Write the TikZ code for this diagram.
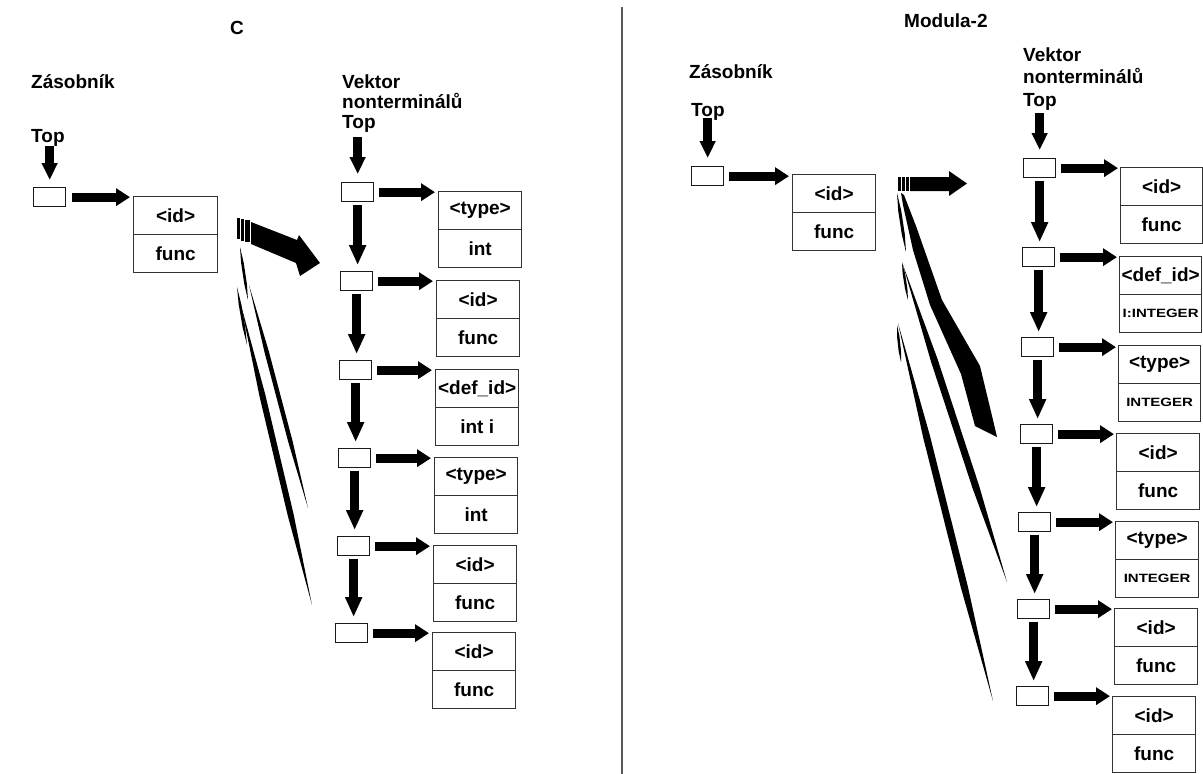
\documentclass[tikz,border=0pt]{standalone}
\usepackage{fontspec}
\setmainfont{Liberation Sans}
\usetikzlibrary{arrows.meta,calc}
\tikzset{
  lbl/.style={font=\bfseries\fontsize{19}{22}\selectfont, inner sep=0pt, anchor=base west},
  cell/.style={draw=black!90, line width=1.3pt, fill=white, minimum width=32pt, minimum height=19pt, inner sep=0pt, anchor=north west},
  half/.style={draw=black!80, line width=1.3pt, fill=white, minimum height=38pt, inner sep=0pt, anchor=north west, font=\bfseries\fontsize{19}{22}\selectfont},
  harr/.style={black, line width=9pt, -{Triangle[length=14pt,width=17pt]}},
  varr/.style={black, line width=8.5pt, -{Triangle[length=20pt,width=16pt]}},
  toparr/.style={black, line width=8.5pt, -{Triangle[length=17pt,width=15pt]}},
  sep/.style={draw=black!65, line width=2pt},
}
% a record drawn as two stacked fields: name, x, y, width, upper text, lower text
\newcommand\twopart[6]{%
  \node[half, minimum width=#4pt] (#1a) at (#2,#3) {#5};
  \node[half, minimum width=#4pt] (#1b) at (#2,#3+38) {#6};}
% a tapered black streak from #1 to #2 with half-width #3
\newcommand\swoosh[3]{%
  \fill[black] #1 -- ($#1!0.3!#2!#3pt!90:#2$) -- ($#1!0.7!#2!#3pt!90:#2$) -- #2
    -- ($#1!0.7!#2!#3pt!-90:#2$) -- ($#1!0.3!#2!#3pt!-90:#2$) -- cycle;}
% small, widened capitals for type names
\newcommand\intg[1]{{\fontsize{12}{14}\selectfont\scalebox{1.25}[1]{#1}}}
\begin{document}
\begin{tikzpicture}[x=1pt,y=-1pt]
\fill[white] (0,0) rectangle (1203,774);
\useasboundingbox (0,0) rectangle (1203,774);
\draw[sep] (622,7) -- (622,774);

% ---------------- C ----------------
\node[lbl] (titleC) at (230,34) {C};
\node[lbl] (lzas) at (31,88) {Zásobník};
\node[lbl] (ltop) at (31,142) {Top};
\node[cell] (ls) at (33,187) {};
\twopart{lsb}{133}{196}{84}{<id>}{func}
\draw[toparr] (ltop.south -| ls.north) -- ([yshift=7pt]ls.north);
\draw[harr] ([xshift=6pt]ls.east) -- ([xshift=-3pt]ls.east -| lsba.west);

\node[lbl] (lv1) at (342,88) {Vektor};
\node[lbl] (lv2) at (342,108) {nonterminálů};
\node[lbl] (lv3) at (342,128) {Top};

\node[cell] (lc1) at (341,182) {};
\node[cell] (lc2) at (340,271) {};
\node[cell] (lc3) at (339,360) {};
\node[cell] (lc4) at (338,448) {};
\node[cell] (lc5) at (337,536) {};
\node[cell] (lc6) at (335,623) {};

\twopart{lb1}{438}{191}{83}{<type>}{int}
\twopart{lb2}{436}{280}{83}{<id>}{func}
\twopart{lb3}{435}{369}{83}{<def\_id>}{int i}
\twopart{lb4}{434}{457}{83}{<type>}{int}
\twopart{lb5}{433}{545}{83}{<id>}{func}
\twopart{lb6}{432}{632}{83}{<id>}{func}

\draw[toparr] ([yshift=-5pt]lv3.south -| lc1.north) -- ([yshift=8pt]lc1.north);
\foreach \a/\b in {lc1/lc2,lc2/lc3,lc3/lc4,lc4/lc5,lc5/lc6}
  \draw[varr] ([yshift=-3pt]\a.south) -- ([yshift=6pt]\a.south |- \b.north);
\foreach \a/\b in {lc1/lb1a,lc2/lb2a,lc3/lb3a,lc4/lb4a,lc5/lb5a,lc6/lb6a}
  \draw[harr] ([xshift=5pt]\a.east) -- ([xshift=-3pt]\a.east -| \b.west);

% blurred arrow and streaks
\fill (237,218) rectangle (239.5,239);
\fill (241,219) rectangle (243.5,241);
\fill (245,220) rectangle (249.5,242);
\fill (251,222) -- (297,240) -- (299,235) -- (320,263) -- (300,276) -- (296,263) -- (251,244) -- cycle;
\swoosh{(240,247)}{(248,300)}{1.3}
\swoosh{(249,285)}{(308,508)}{2.2}
\swoosh{(237,287)}{(247,345)}{1.3}
\swoosh{(241,305)}{(312,605)}{3}

% ---------------- Modula-2 ----------------
\node[lbl] (titleM) at (904,27) {Modula-2};
\node[lbl] (rzas) at (689,78) {Zásobník};
\node[lbl] (rtop) at (691,116) {Top};
\node[cell] (rs) at (691,166) {};
\twopart{rsb}{792}{174}{83}{<id>}{func}
\draw[toparr] ([yshift=2pt]rtop.south -| rs.north) -- ([yshift=8pt]rs.north);
\draw[harr] ([xshift=5pt]rs.east) -- ([xshift=-3pt]rs.east -| rsba.west);

\node[lbl] (rv1) at (1023,61) {Vektor};
\node[lbl] (rv2) at (1023,83) {nonterminálů};
\node[lbl] (rv3) at (1023,106) {Top};

\node[cell] (rc1) at (1023,158) {};
\node[cell] (rc2) at (1022,247) {};
\node[cell] (rc3) at (1021,337) {};
\node[cell] (rc4) at (1020,424) {};
\node[cell] (rc5) at (1018,512) {};
\node[cell] (rc6) at (1017,599) {};
\node[cell] (rc7) at (1016,686) {};

\twopart{rb1}{1120}{167}{82}{<id>}{func}
\twopart{rb2}{1119}{256}{82}{<def\_id>}{\intg{I:INTEGER}}
\twopart{rb3}{1118}{345}{82}{<type>}{\intg{INTEGER}}
\twopart{rb4}{1116}{433}{83}{<id>}{func}
\twopart{rb5}{1115}{521}{83}{<type>}{\intg{INTEGER}}
\twopart{rb6}{1114}{608}{83}{<id>}{func}
\twopart{rb7}{1112}{696}{83}{<id>}{func}

\draw[toparr] ([yshift=-3pt]rv3.south -| rc1.north) -- ([yshift=8pt]rc1.north);
\foreach \a/\b in {rc1/rc2,rc2/rc3,rc3/rc4,rc4/rc5,rc5/rc6,rc6/rc7}
  \draw[varr] ([yshift=-3pt]\a.south) -- ([yshift=5pt]\a.south |- \b.north);
\foreach \a/\b in {rc1/rb1a,rc2/rb2a,rc3/rb3a,rc4/rb4a,rc5/rb5a,rc6/rb6a,rc7/rb7a}
  \draw[harr] ([xshift=5pt]\a.east) -- ([xshift=-2pt]\a.east -| \b.west);

% blurred arrow and streaks
\fill (898,177) rectangle (900.5,191);
\fill (902,177) rectangle (904.5,191);
\fill (906,177) rectangle (908.5,191);
\fill (910,177) -- (949,177) -- (949,171) -- (967,183.5) -- (949,196) -- (949,191) -- (910,191) -- cycle;
\swoosh{(897,193)}{(906,252)}{1.5}
\fill (901,193) -- (904,195) -- (916,226) -- (942,300) -- (980,366) -- (993,420) -- (997,437)
  -- (975,426) -- (961,374) -- (930,305) -- (913,250) -- (903,205) -- cycle;
\swoosh{(902,262)}{(908,300)}{1.2}
\swoosh{(903,265)}{(1007,582)}{3.5}
\swoosh{(897,325)}{(901,362)}{1.2}
\swoosh{(898,323)}{(993,701)}{3.5}
\end{tikzpicture}
\end{document}
